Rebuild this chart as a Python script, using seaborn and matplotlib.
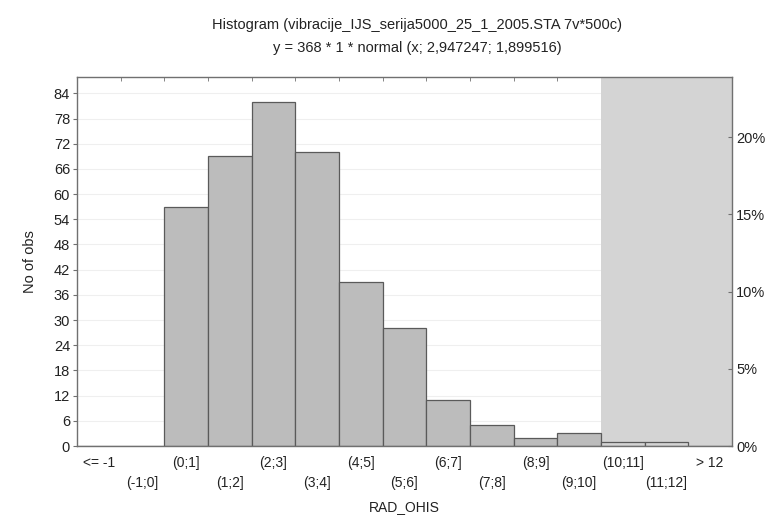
import numpy as np
import matplotlib
matplotlib.use('Agg')
import matplotlib.pyplot as plt
from matplotlib.ticker import FixedLocator
import seaborn as sns

# data
categories = ['<= -1', '(-1;0]', '(0;1]', '(1;2]', '(2;3]', '(3;4]', '(4;5]', '(5;6]',
              '(6;7]', '(7;8]', '(8;9]', '(9;10]', '(10;11]', '(11;12]', '> 12']
counts = [0, 0, 57, 69, 82, 70, 39, 28, 11, 5, 2, 3, 1, 1, 0]
n_total = 368
shaded = ['(10;11]', '(11;12]', '> 12']
y_ticks = list(range(0, 85, 6))
pct_ticks = [0, 5, 10, 15, 20]

sns.set_style('white')
plt.rcParams['font.family'] = ['Liberation Sans', 'DejaVu Sans']
plt.rcParams['font.size'] = 10

bar_col = '#bcbcbc'
shade_col = '#d4d4d4'
colors = [shade_col if c in shaded else bar_col for c in categories]

fig = plt.figure(figsize=(7.73, 5.16), dpi=100)
ax = fig.add_axes([77/773, 1 - 446/516, (732 - 77)/773, (446 - 77)/516])

ymax = 87.9
first_shade = categories.index(shaded[0])
for y in y_ticks[1:]:
    ax.axhline(y, color='#efefef', lw=0.8, zorder=0.5)
ax.axvspan(first_shade - 0.5, len(categories) - 0.5, color=shade_col, zorder=1, lw=0)

sns.barplot(x=categories, y=counts, hue=categories, palette=colors, legend=False,
            width=1.0, edgecolor='#5a5a5a', linewidth=0.9, saturation=1, ax=ax, zorder=2)

ax.set_xlim(-0.5, len(categories) - 0.5)
ax.set_ylim(0, ymax)
ax.set_yticks(y_ticks)

# staggered category labels
labels = [c if i % 2 == 0 else '\n' + c for i, c in enumerate(categories)]
ax.set_xticks(range(len(categories)))
ax.set_xticklabels(labels, fontsize=10, color='#222222', linespacing=1.6)
ax.tick_params(axis='x', which='major', length=0, pad=7)
ax.xaxis.set_minor_locator(FixedLocator(np.arange(-0.5, len(categories), 1.0)))
ax.tick_params(axis='x', which='minor', bottom=False, top=True, direction='in',
               length=3, color='#707070')
ax.tick_params(axis='y', length=3, color='#707070', labelsize=10.5, labelcolor='#222222', pad=2)

for s in ax.spines.values():
    s.set_color('#707070')
    s.set_linewidth(1.0)

ax.set_xlabel('RAD_OHIS', fontsize=10, color='#222222', labelpad=7)
ax.set_ylabel('No of obs', fontsize=10.5, color='#222222', labelpad=12)

# right axis in percent of all observations
ax2 = ax.twinx()
ax2.set_ylim(0, ymax / n_total * 100)
ax2.set_yticks(pct_ticks)
ax2.set_yticklabels([f'{p}%' for p in pct_ticks], fontsize=10.5, color='#222222')
ax2.tick_params(axis='y', direction='in', length=3, color='#707070', pad=3)
for s in ax2.spines.values():
    s.set_visible(False)

fig.text(417/773, 1 - 25/516, 'Histogram (vibracije_IJS_serija5000_25_1_2005.STA 7v*500c)',
         ha='center', va='center', fontsize=10.5, color='#222222')
fig.text(417/773, 1 - 48/516, 'y = 368 * 1 * normal (x; 2,947247; 1,899516)',
         ha='center', va='center', fontsize=10.5, color='#222222')

fig.savefig('out.png', dpi=100)
